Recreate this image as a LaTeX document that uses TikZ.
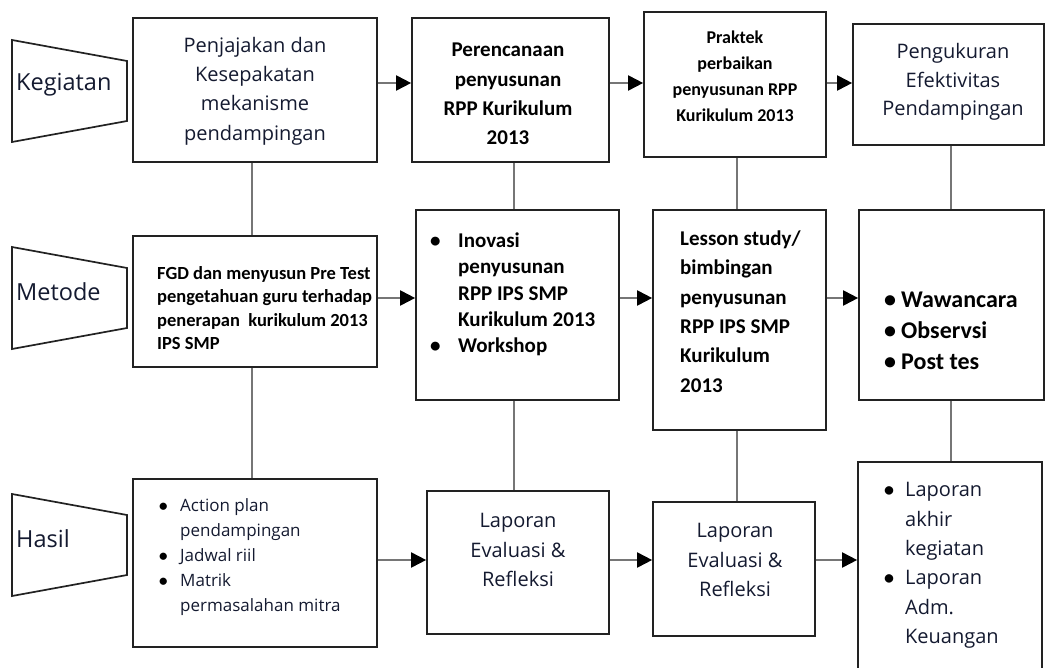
\documentclass[tikz,border=0pt]{standalone}
\usepackage{fontspec}
\setmainfont{Open Sans}
\newfontfamily\calfont{Carlito}
\usetikzlibrary{arrows.meta}
\definecolor{Ink}{HTML}{141A30}
\definecolor{Rule}{HTML}{767676}
\definecolor{Edge}{HTML}{222222}
\newcommand{\bul}[1]{\makebox[#1][l]{\textcolor{black}{\calfont\bfseries\textbullet}}}
\newcommand{\hang}[1]{\hspace*{#1}}

\begin{document}
\begin{tikzpicture}[x=1pt, y=-1pt,
    box/.style={draw=Edge, line width=1.7pt, inner sep=0pt},
    tag/.style={draw=Edge, line width=1.7pt, line join=miter},
    lab/.style={anchor=west, text=Ink, inner sep=0pt, font=\fontsize{23.5}{28}\selectfont},
    soft/.style={text=Ink, align=center, inner sep=0pt, font=\fontsize{20}{29.3}\selectfont},
    hard/.style={text=black, align=center, inner sep=0pt},
    link/.style={draw=Rule, line width=1.9pt},
    ar/.style={link, -{Triangle[length=15pt, width=15pt, color=black]}}]
  \useasboundingbox (0,0) rectangle (1046,668);
  % row labels
  \foreach \y/\t [count=\i] in {40/Kegiatan, 247/Metode, 494/Hasil} {
    \draw[tag] (12,\y) -- (127,\y+21) -- (127,\y+81) -- (12,\y+102) -- cycle;
    \node[lab] (l\i) at (16,\y+45) {\t};
  }
  % kegiatan
  \node[box, minimum width=244pt, minimum height=144pt] (b1) at (255,90)    {};
  \node[box, minimum width=197pt, minimum height=144pt] (b2) at (510.5,90)  {};
  \node[box, minimum width=182pt, minimum height=145pt] (b3) at (735,84.5)  {};
  \node[box, minimum width=191pt, minimum height=121pt] (b4) at (948.5,84.5){};
  \node[soft] (t1) at (255,91) {Penjajakan dan\\Kesepakatan\\mekanisme\\pendampingan};
  \node[hard, font=\calfont\bfseries\fontsize{21}{29.3}\selectfont] (t2) at (508,94)
    {Perencanaan\\penyusunan\\RPP Kurikulum\\2013};
  \node[hard, font=\calfont\bfseries\fontsize{18}{26}\selectfont] (t3) at (735,76)
    {Praktek\\perbaikan\\penyusunan RPP\\Kurikulum 2013};
  \node[soft, font=\fontsize{20}{28.5}\selectfont] (t4) at (953,82)
    {Pengukuran\\Efektivitas\\Pendampingan};
  % metode
  \node[box, minimum width=244pt, minimum height=131pt] (b5) at (255,301.5)  {};
  \node[box, minimum width=203pt, minimum height=190pt] (b6) at (517.5,305)  {};
  \node[box, minimum width=173pt, minimum height=220pt] (b7) at (739.5,320)  {};
  \node[box, minimum width=185pt, minimum height=190pt] (b8) at (951.5,305)  {};
  \node[hard, align=left, anchor=west, font=\calfont\bfseries\fontsize{18.5}{23.3}\selectfont] (t5) at (157,308)
    {FGD dan menyusun Pre Test\\pengetahuan guru terhadap\\penerapan\ \ kurikulum 2013\\IPS SMP};
  \node[hard, align=left, anchor=west, font=\calfont\bfseries\fontsize{21}{26.3}\selectfont] (t6) at (430,294.5)
    {\bul{28pt}Inovasi\\\hang{28pt}penyusunan\\\hang{28pt}RPP IPS SMP\\\hang{28pt}Kurikulum 2013\\\bul{28pt}Workshop};
  \node[hard, align=left, anchor=west, font=\calfont\bfseries\fontsize{21}{29.4}\selectfont] (t7) at (680,311.5)
    {Lesson study/\\bimbingan\\penyusunan\\RPP IPS SMP\\Kurikulum\\2013};
  \node[hard, align=left, anchor=west, font=\calfont\bfseries\fontsize{24}{31}\selectfont] (t8) at (884,331)
    {\bul{17pt}Wawancara\\\bul{17pt}Observsi\\\bul{17pt}Post tes};
  % hasil
  \node[box, minimum width=244pt, minimum height=168pt] (b9)  at (255,563)   {};
  \node[box, minimum width=182pt, minimum height=143pt] (b10) at (518,562.5) {};
  \node[box, minimum width=162pt, minimum height=134pt] (b11) at (734,569)   {};
  \node[box, minimum width=184pt, minimum height=228pt] (b12) at (950,576)   {};
  \node[soft, align=left, anchor=west, font=\fontsize{17}{25}\selectfont] (t9) at (159,557)
    {\bul{21pt}Action plan\\\hang{21pt}pendampingan\\\bul{21pt}Jadwal riil\\\bul{21pt}Matrik\\\hang{21pt}permasalahan mitra};
  \node[soft] (t10) at (518,550) {Laporan\\Evaluasi \&\\Refleksi};
  \node[soft] (t11) at (735,560) {Laporan\\Evaluasi \&\\Refleksi};
  \node[soft, align=left, anchor=west] (t12) at (884,565.5)
    {\bul{21pt}Laporan\\\hang{21pt}akhir\\\hang{21pt}kegiatan\\\bul{21pt}Laporan\\\hang{21pt}Adm.\\\hang{21pt}Keuangan};
  % connectors
  \coordinate (r1) at (0,83);  \coordinate (r2) at (0,298); \coordinate (r3) at (0,560);
  \coordinate (c1) at (252,0); \coordinate (c2) at (514,0); \coordinate (c3) at (737,0); \coordinate (c4) at (951,0);
  \foreach \c/\u/\m/\d in {c1/b1/b5/b9, c2/b2/b6/b10, c3/b3/b7/b11, c4/b4/b8/b12} {
    \draw[link] (\u.south -| \c) -- (\m.north -| \c);
    \draw[link] (\m.south -| \c) -- (\d.north -| \c);
  }
  \foreach \r/\a/\b in {r1/b1/b2, r1/b2/b3, r1/b3/b4, r2/b5/b6, r2/b6/b7, r2/b7/b8,
                        r3/b9/b10, r3/b10/b11, r3/b11/b12}
    \draw[ar] (\a.east |- \r) -- (\b.west |- \r);
\end{tikzpicture}
\end{document}
